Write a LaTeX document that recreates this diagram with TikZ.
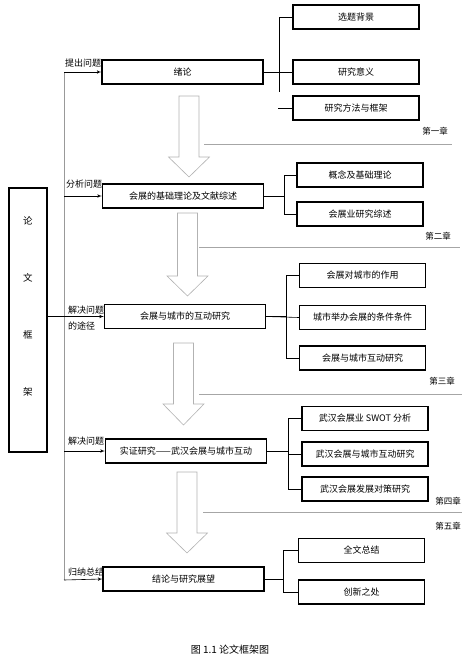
\documentclass[tikz,border=0pt]{standalone}
\usepackage{fontspec}
\setmainfont{Noto Sans CJK SC}
\usepackage{tikz}
\usetikzlibrary{arrows}
\pgfdeclarelayer{lineas_layer}
\pgfdeclarelayer{esquema}
\pgfsetlayers{lineas_layer,esquema,main}
\tikzstyle{none}=[inner sep=0pt]
\tikzstyle{capitulo}=[draw=black,fill=white,line width=1.1pt,minimum width=161pt,minimum height=24pt,font=\fontsize{9}{9}\selectfont,inner sep=0pt]
\tikzstyle{apartado}=[draw=black,fill=white,line width=1.1pt,minimum width=126pt,minimum height=24pt,font=\fontsize{9}{9}\selectfont,inner sep=0pt]
\tikzstyle{marco}=[draw=black,fill=white,line width=1.1pt,minimum width=38pt,minimum height=264pt,inner sep=0pt]
\tikzstyle{etiqueta}=[inner sep=0pt,font=\fontsize{9}{16}\selectfont,anchor=west,align=left]
\tikzstyle{numero}=[inner sep=0pt,font=\fontsize{8.5}{8.5}\selectfont]
\tikzstyle{line} = [draw,-latex',line width=0.6pt]
\tikzstyle{rama}=[draw=black,line width=0.6pt]
\tikzstyle{eje}=[draw=gray!80,line width=0.7pt]
\tikzstyle{separador}=[draw=gray!70,line width=0.6pt]
\tikzstyle{hueca}=[draw=gray!60,fill=white,line width=0.6pt]

\begin{document}
\begin{tikzpicture}[x=1pt,y=-1pt]
		\useasboundingbox (0,0) rectangle (471,656);
		\begin{pgfonlayer}{esquema}
			\node [style=marco] (marco) at (28,320) {};
			\node [style=none,align=center,font=\fontsize{9.5}{57}\selectfont] (marco_texto) at (28,306) {论\\文\\框\\架};
			\node [style=capitulo] (intro) at (182.5,72) {绪论};
			\node [style=capitulo] (base) at (183,196) {会展的基础理论及文献综述};
			\node [style=capitulo] (interaccion) at (185,316.5) {会展与城市的互动研究};
			\node [style=capitulo] (empirico) at (186,451) {实证研究——武汉会展与城市互动};
			\node [style=capitulo] (conclusion) at (183.5,579) {结论与研究展望};
			\node [style=apartado] (fondo) at (356,17) {选题背景};
			\node [style=apartado] (sentido) at (356,72) {研究意义};
			\node [style=apartado] (metodo) at (356,108) {研究方法与框架};
			\node [style=apartado] (concepto) at (360,175) {概念及基础理论};
			\node [style=apartado] (resena) at (360,214) {会展业研究综述};
			\node [style=apartado] (papel) at (362.5,275.5) {会展对城市的作用};
			\node [style=apartado] (condicion) at (362.5,317.5) {城市举办会展的条件条件};
			\node [style=apartado] (interactivo) at (362.5,358) {会展与城市互动研究};
			\node [style=apartado] (swot) at (365,418.5) {武汉会展业 SWOT 分析};
			\node [style=apartado] (wuhan) at (365,454) {武汉会展与城市互动研究};
			\node [style=apartado] (politica) at (365,489) {武汉会展发展对策研究};
			\node [style=apartado] (resumen) at (361.5,550.5) {全文总结};
			\node [style=apartado] (novedad) at (361.5,592) {创新之处};
			\node [style=etiqueta] (plantear) at (65,63) {提出问题};
			\node [style=etiqueta] (analizar) at (66,184) {分析问题};
			\node [style=etiqueta] (resolver) at (68,318) {解决问题\\的途径};
			\node [style=etiqueta] (resolver2) at (68,441) {解决问题};
			\node [style=etiqueta] (resumir) at (68,572) {归纳总结};
			\node [style=numero] (cap1) at (435,131) {第一章};
			\node [style=numero] (cap2) at (438,236) {第二章};
			\node [style=numero] (cap3) at (442,381) {第三章};
			\node [style=numero] (cap4) at (448,501) {第四章};
			\node [style=numero] (cap5) at (448,526) {第五章};
			\node [style=none,font=\fontsize{10}{10}\selectfont] (titulo) at (230,650) {图 1.1 论文框架图};
		\end{pgfonlayer}
		\begin{pgfonlayer}{lineas_layer}
			\coordinate (eje_arriba) at (64,72);
			\coordinate (eje_abajo) at (64,580);
			\path [style=eje] (eje_arriba) -- (eje_abajo);
			\path [style=line] (eje_arriba) -- (intro.west);
			\path [style=line] (eje_arriba |- base.west) -- (base.west);
			\path [style=line] (marco.east |- interaccion.west) -- (interaccion.west);
			\path [style=line] (eje_arriba |- empirico.west) -- (empirico.west);
			\path [style=line] (eje_abajo) -- (conclusion.west);
			% capitulo 1
			\path [style=rama] (intro.east) -- ++(16,0) |- (fondo.west);
			\path [style=rama] (intro.east) -- (sentido.west);
			\path [style=rama] (intro.east) ++(16,0) -- ++(0,20);
			\path [style=rama] (metodo.west) -- ++(-14,0);
			% capitulo 2
			\path [style=rama] (base.east) -- ++(20,0) |- (concepto.west);
			\path [style=rama] (base.east) -- ++(20,0) |- (resena.west);
			% capitulo 3
			\path [style=rama] (interaccion.east) -- ++(20,0) |- (papel.west);
			\path [style=rama] (interaccion.east) -- (condicion.west);
			\path [style=rama] (interaccion.east) -- ++(20,0) |- (interactivo.west);
			% capitulo 4
			\path [style=rama] (empirico.east) -- ++(21,0) |- (swot.west);
			\path [style=rama] (empirico.east) -- ++(21,0) |- (wuhan.west);
			\path [style=rama] (empirico.east) -- ++(21,0) |- (politica.west);
			% capitulo 5
			\path [style=rama] (conclusion.east) -- ++(19,0) |- (resumen.west);
			\path [style=rama] (conclusion.east) -- ++(19,0) |- (novedad.west);
			% separadores
			\path [style=separador] (204,144) -- (452,144);
			\path [style=separador] (199,247) -- (460,247);
			\path [style=separador] (199,394) -- (462,394);
			\path [style=separador] (203,512) -- (462,512);
			% flechas huecas
			\path [style=hueca] (179,96) -- (199,96) -- (199,157) -- (209.5,157) -- (189,177) -- (168.5,157) -- (179,157) -- cycle;
			\path [style=hueca] (177.5,213) -- (197.5,213) -- (197.5,276) -- (208,276) -- (187.5,296) -- (167,276) -- (177.5,276) -- cycle;
			\path [style=hueca] (173.5,343) -- (193.5,343) -- (193.5,404) -- (204,404) -- (183.5,425) -- (163,404) -- (173.5,404) -- cycle;
			\path [style=hueca] (177,472) -- (197,472) -- (197,533) -- (207.5,533) -- (187,553) -- (166.5,533) -- (177,533) -- cycle;
		\end{pgfonlayer}
\end{tikzpicture}
\end{document}
